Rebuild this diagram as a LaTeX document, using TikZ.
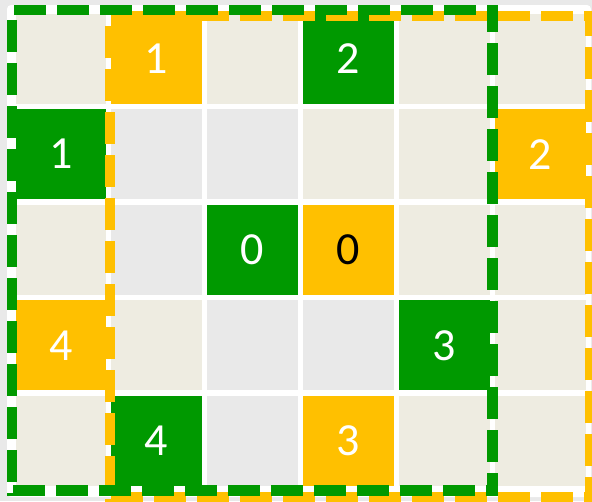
\documentclass[tikz,border=0pt]{standalone}
\usepackage{fontspec}
\setmainfont{Carlito}
\definecolor{cbg}{RGB}{233,233,233}
\definecolor{cbeige}{RGB}{238,236,225}
\definecolor{cgrey}{RGB}{233,233,233}
\definecolor{cgreen}{RGB}{0,153,0}
\definecolor{cyellow}{RGB}{255,192,0}
\begin{document}
\begin{tikzpicture}[x=1pt,y=-1pt,
  cell/.style={minimum width=90.5pt,minimum height=90pt,inner sep=0pt,outer sep=0pt,
    font=\fontsize{46}{46}\selectfont,text=white},
  beige/.style={cell,fill=cbeige},
  grey/.style={cell,fill=cgrey},
  grn/.style={cell,fill=cgreen},
  yel/.style={cell,fill=cyellow},
  gline/.style={draw=cgreen,line width=10.5pt,dash pattern=on 32pt off 11pt},
  yline/.style={draw=cyellow,line width=10.5pt,dash pattern=on 32pt off 11pt}]
\useasboundingbox (0,0) rectangle (592,501);
\fill[cbg] (0,0) rectangle (592,501);
\fill[white,rounded corners=4pt] (7,5) rectangle (591,497);
% row 0
\node[beige] (c00) at (60.75,58.5) {};
\node[yel]   (c10) at (156.65,58.5) {1};
\node[beige] (c20) at (252.55,58.5) {};
\node[grn]   (c30) at (348.45,58.5) {2};
\node[beige] (c40) at (444.35,58.5) {};
\node[beige] (c50) at (540.25,58.5) {};
% row 1
\node[grn]   (c01) at (60.75,154.1) {1};
\node[grey]  (c11) at (156.65,154.1) {};
\node[grey]  (c21) at (252.55,154.1) {};
\node[beige] (c31) at (348.45,154.1) {};
\node[beige] (c41) at (444.35,154.1) {};
\node[yel]   (c51) at (540.25,154.1) {2};
% row 2
\node[beige] (c02) at (60.75,249.7) {};
\node[grey]  (c12) at (156.65,249.7) {};
\node[grn]   (c22) at (252.55,249.7) {0};
\node[yel,text=black] (c32) at (348.45,249.7) {0};
\node[beige] (c42) at (444.35,249.7) {};
\node[beige] (c52) at (540.25,249.7) {};
% row 3
\node[yel]   (c03) at (60.75,345.3) {4};
\node[beige] (c13) at (156.65,345.3) {};
\node[grey]  (c23) at (252.55,345.3) {};
\node[grey]  (c33) at (348.45,345.3) {};
\node[grn]   (c43) at (444.35,345.3) {3};
\node[beige] (c53) at (540.25,345.3) {};
% row 4
\node[beige] (c04) at (60.75,440.9) {};
\node[grn]   (c14) at (156.65,440.9) {4};
\node[grey]  (c24) at (252.55,440.9) {};
\node[yel]   (c34) at (348.45,440.9) {3};
\node[beige] (c44) at (444.35,440.9) {};
\node[beige] (c54) at (540.25,440.9) {};
% yellow dashed frame
\draw[yline,dash phase=37pt] (105,16) -- (595,16);
\draw[yline,dash phase=37pt] (105,497) -- (595,497);
\draw[yline,dash phase=33pt] (110,16) -- (110,502);
\draw[yline,dash phase=7pt] (590,11) -- (590,502);
% green dashed frame
\draw[gline,dash phase=36pt] (7,10) -- (497.5,10);
\draw[gline,dash phase=37pt] (7,490.5) -- (497.5,490.5);
\draw[gline,dash phase=33pt] (12,10) -- (12,496);
\draw[gline,dash phase=5pt] (492.5,5) -- (492.5,496);
\end{tikzpicture}
\end{document}
